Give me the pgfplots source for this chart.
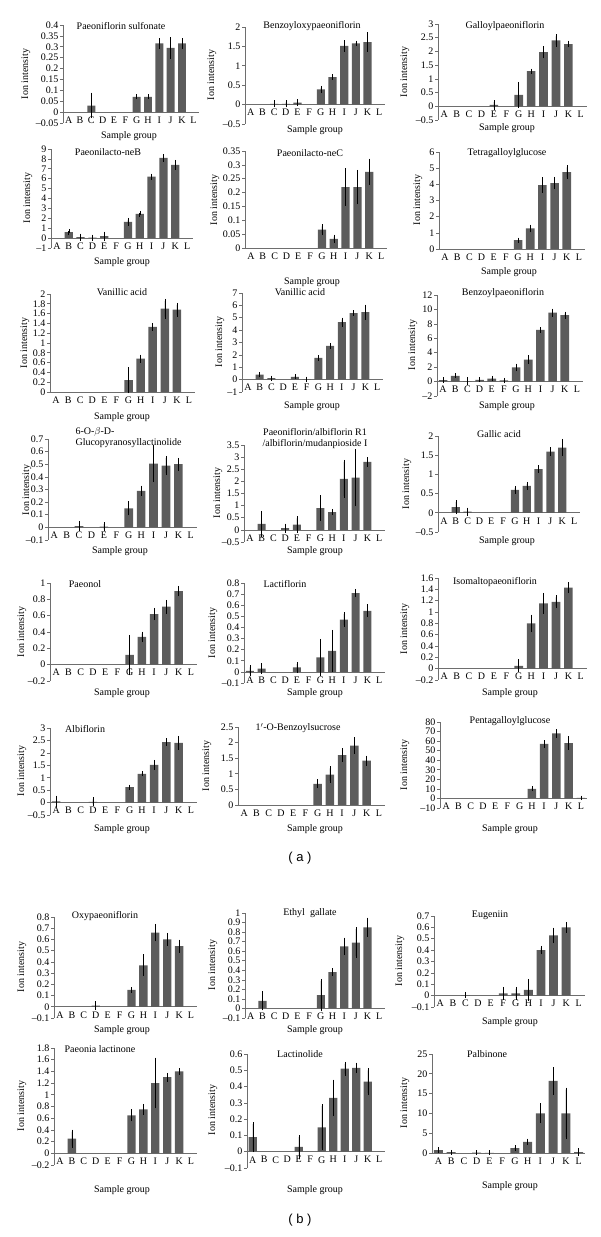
\documentclass[border=0pt]{standalone}
\usepackage{fontspec}
\setmainfont{Liberation Serif}
\newfontfamily\arialf{Liberation Sans}
\usepackage{pgfplots}
\pgfplotsset{compat=1.18}
\definecolor{barcol}{RGB}{92,92,92}
\definecolor{axcol}{RGB}{110,110,110}
\newdimen\PW \newdimen\PH \newdimen\PXd \newdimen\PYd
\newcommand\setp[4]{\PXd=#1pt\relax\PYd=\dimexpr1237pt-#4pt\relax\PW=\dimexpr#2pt-#1pt\relax\PH=\dimexpr#4pt-#3pt\relax}
\pgfplotsset{mini/.style={
 scale only axis, anchor=south west, at={(\PXd,\PYd)},
 width=\PW, height=\PH,
 xmin=0.5, xmax=12.5,
 axis x line*=middle, axis y line*=left,
 hide obscured x ticks=false, hide obscured y ticks=false,
 xtick={1,...,12}, xticklabels={A,B,C,D,E,F,G,H,I,J,K,L},
 x tick style={draw=none},
 tick align=outside, major tick length=3pt,
 axis line style={axcol, line width=0.6pt},
 y tick style={axcol, line width=0.6pt},
 ticklabel style={font=\fontsize{10}{10}\selectfont, inner sep=1.5pt},
 yticklabel style={/pgf/number format/fixed, /pgf/number format/precision=3},
 yticklabel={\pgfmathparse{\tick<-0.0000001}\ifdim\pgfmathresult pt>0.5pt \textendash\fi\pgfmathparse{abs(\tick)}\pgfmathprintnumber{\pgfmathresult}},
 /pgf/number format/assume math mode=true,
 scaled y ticks=false,
 clip=false,
 ybar, bar width=0.7,
}}
\pgfplotsset{bars/.style={fill=barcol, draw=none,
 error bars/.cd, y dir=both, y explicit,
 error bar style={black, line width=0.5pt},
 error mark options={black, line width=0.5pt, mark size=2pt}}}
\newcommand\lab[3]{\node[font=\fontsize{10}{10}\selectfont] at (#1pt,1237pt-#2pt) {#3};}
\newcommand\ylab[2]{\node[font=\fontsize{10}{10}\selectfont, rotate=90] at (#1pt,1237pt-#2pt) {Ion intensity};}
\begin{document}
\begin{tikzpicture}
\path[use as bounding box] (0pt,0pt) rectangle (600pt,1237pt);
% ---------- row 1
\setp{63}{199}{25}{123}
\begin{axis}[mini, ymin=-0.05, ymax=0.4, ytick={-0.05,0,0.05,0.1,0.15,0.2,0.25,0.3,0.35,0.4}]
\addplot[bars] table[x=x,y=y,y error=e,row sep=\\]{x y e\\ 3 0.03 0.05\\ 7 0.07 0.002\\ 8 0.07 0.002\\ 9 0.315 0.015\\ 10 0.295 0.04\\ 11 0.315 0.015\\};
\end{axis}
\lab{121}{26}{Paeoniflorin sulfonate}\lab{129}{136}{Sample group}\ylab{26}{74}
\setp{245}{385}{27}{124}
\begin{axis}[mini, ymin=-0.5, ymax=2, ytick={-0.5,0,0.5,1,1.5,2}]
\addplot[bars] table[x=x,y=y,y error=e,row sep=\\]{x y e\\ 3 0.02 0.04\\ 4 0.02 0.04\\ 5 0.05 0.04\\ 7 0.39 0.04\\ 8 0.71 0.02\\ 9 1.51 0.1\\ 10 1.58 0.02\\ 11 1.61 0.2\\};
\end{axis}
\lab{312}{26}{Benzoyloxypaeoniflorin}\lab{315}{130}{Sample group}\ylab{212}{75}
\setp{438}{587}{24}{120}
\begin{axis}[mini, ymin=-0.5, ymax=3, ytick={-0.5,0,0.5,1,1.5,2,2.5,3}]
\addplot[bars] table[x=x,y=y,y error=e,row sep=\\]{x y e\\ 5 0.05 0.1\\ 7 0.42 0.4\\ 8 1.28 0.02\\ 9 1.97 0.15\\ 10 2.4 0.15\\ 11 2.27 0.05\\};
\end{axis}
\lab{505}{26}{Galloylpaeoniflorin}\lab{507}{128}{Sample group}\ylab{405}{72}
% ---------- row 2
\setp{51}{193}{149}{248}
\begin{axis}[mini, ymin=-1, ymax=9, ytick={-1,0,1,2,3,4,5,6,7,8,9}]
\addplot[bars] table[x=x,y=y,y error=e,row sep=\\]{x y e\\ 2 0.6 0.1\\ 3 0.1 0.15\\ 4 0.05 0.1\\ 5 0.2 0.25\\ 7 1.65 0.2\\ 8 2.45 0.1\\ 9 6.2 0.1\\ 10 8.1 0.2\\ 11 7.4 0.3\\};
\end{axis}
\lab{108}{152}{Paeonilacto-neB}\lab{122}{262}{Sample group}\ylab{28}{198}
\setp{245}{387}{151}{248}
\begin{axis}[mini, ymin=0, ymax=0.35, ytick={0,0.05,0.1,0.15,0.2,0.25,0.3,0.35}]
\addplot[bars] table[x=x,y=y,y error=e,row sep=\\]{x y e\\ 7 0.066 0.012\\ 8 0.033 0.008\\ 9 0.22 0.06\\ 10 0.22 0.055\\ 11 0.275 0.04\\};
\end{axis}
\lab{310}{153}{Paeonilacto-neC}\lab{312}{282}{Sample group}\ylab{215}{200}
\setp{439}{585}{152}{249}
\begin{axis}[mini, ymin=0, ymax=6, ytick={0,1,2,3,4,5,6}]
\addplot[bars] table[x=x,y=y,y error=e,row sep=\\]{x y e\\ 7 0.55 0.03\\ 8 1.27 0.12\\ 9 3.95 0.35\\ 10 4.08 0.25\\ 11 4.75 0.3\\};
\end{axis}
\lab{507}{153}{Tetragalloylglucose}\lab{509}{272}{Sample group}\ylab{418}{200}
% ---------- row 3
\setp{50}{195}{294}{392}
\begin{axis}[mini, ymin=0, ymax=2, ytick={0,0.2,0.4,0.6,0.8,1,1.2,1.4,1.6,1.8,2}]
\addplot[bars] table[x=x,y=y,y error=e,row sep=\\]{x y e\\ 7 0.24 0.22\\ 8 0.68 0.04\\ 9 1.33 0.04\\ 10 1.7 0.16\\ 11 1.68 0.1\\};
\end{axis}
\lab{122}{292}{Vanillic acid}\lab{122}{417}{Sample group}\ylab{25}{343}
\setp{242}{383}{293}{392}
\begin{axis}[mini, ymin=-1, ymax=7, ytick={-1,0,1,2,3,4,5,6,7}]
\addplot[bars] table[x=x,y=y,y error=e,row sep=\\]{x y e\\ 2 0.4 0.05\\ 3 0.12 0.04\\ 5 0.22 0.04\\ 6 0.03 0.05\\ 7 1.75 0.06\\ 8 2.72 0.08\\ 9 4.65 0.2\\ 10 5.38 0.05\\ 11 5.45 0.45\\};
\end{axis}
\lab{300}{292}{Vanillic acid}\lab{312}{406}{Sample group}\ylab{220}{342}
\setp{437}{583}{295}{396}
\begin{axis}[mini, ymin=-2, ymax=12, ytick={-2,0,2,4,6,8,10,12}]
\addplot[bars] table[x=x,y=y,y error=e,row sep=\\]{x y e\\ 1 0.2 0.1\\ 2 0.8 0.05\\ 3 0.05 0.3\\ 4 0.25 0.05\\ 5 0.4 0.1\\ 6 0.15 0.1\\ 7 1.95 0.25\\ 8 3.05 0.3\\ 9 7.15 0.1\\ 10 9.55 0.3\\ 11 9.2 0.2\\};
\end{axis}
\lab{503}{293}{Benzoylpaeoniflorin}\lab{507}{406}{Sample group}\ylab{413}{345}
% ---------- row 4
\setp{48}{197}{439}{540}
\begin{axis}[mini, ymin=-0.1, ymax=0.7, ytick={-0.1,0,0.1,0.2,0.3,0.4,0.5,0.6,0.7}]
\addplot[bars] table[x=x,y=y,y error=e,row sep=\\]{x y e\\ 3 0.01 0.025\\ 5 0.005 0.02\\ 7 0.15 0.04\\ 8 0.29 0.025\\ 9 0.505 0.13\\ 10 0.49 0.06\\ 11 0.5 0.035\\};
\end{axis}
\node[font=\fontsize{10}{11}\selectfont, align=left, anchor=west] at (72pt,1237pt-438pt) {6-O-$\beta$-D-\\Glucopyranosyllactinolide};
\lab{120}{551}{Sample group}\ylab{27}{490}
\setp{244}{385}{445}{542}
\begin{axis}[mini, ymin=-0.5, ymax=3.5, ytick={-0.5,0,0.5,1,1.5,2,2.5,3,3.5}]
\addplot[bars] table[x=x,y=y,y error=e,row sep=\\]{x y e\\ 2 0.25 0.45\\ 4 0.07 0.1\\ 5 0.22 0.25\\ 7 0.9 0.45\\ 8 0.73 0.05\\ 9 2.1 0.7\\ 10 2.15 1.1\\ 11 2.8 0.12\\};
\end{axis}
\node[font=\fontsize{10}{11}\selectfont, align=center] at (315pt,1237pt-439pt) {Paeoniflorin/albiflorin R1\\/albiflorin/mudanpioside I};
\lab{315}{551}{Sample group}\ylab{218}{493}
\setp{438}{580}{436}{532}
\begin{axis}[mini, ymin=-0.5, ymax=2, ytick={-0.5,0,0.5,1,1.5,2}]
\addplot[bars] table[x=x,y=y,y error=e,row sep=\\]{x y e\\ 2 0.15 0.13\\ 3 0.03 0.05\\ 7 0.6 0.05\\ 8 0.7 0.05\\ 9 1.14 0.05\\ 10 1.59 0.06\\ 11 1.7 0.17\\};
\end{axis}
\lab{499}{434}{Gallic acid}\lab{507}{541}{Sample group}\ylab{407}{484}
% ---------- row 5
\setp{50}{197}{583}{681}
\begin{axis}[mini, ymin=-0.2, ymax=1, ytick={-0.2,0,0.2,0.4,0.6,0.8,1}]
\addplot[bars] table[x=x,y=y,y error=e,row sep=\\]{x y e\\ 7 0.12 0.22\\ 8 0.34 0.04\\ 9 0.62 0.05\\ 10 0.71 0.06\\ 11 0.9 0.04\\};
\end{axis}
\lab{85}{584}{Paeonol}\lab{122}{693}{Sample group}\ylab{22}{632}
\setp{244}{385}{583}{683}
\begin{axis}[mini, ymin=-0.1, ymax=0.8, ytick={-0.1,0,0.1,0.2,0.3,0.4,0.5,0.6,0.7,0.8}]
\addplot[bars] table[x=x,y=y,y error=e,row sep=\\]{x y e\\ 1 0.01 0.03\\ 2 0.03 0.03\\ 5 0.04 0.03\\ 7 0.13 0.15\\ 8 0.19 0.17\\ 9 0.47 0.05\\ 10 0.71 0.02\\ 11 0.55 0.04\\};
\end{axis}
\lab{285}{584}{Lactiflorin}\lab{315}{693}{Sample group}\ylab{213}{633}
\setp{438}{587}{578}{680}
\begin{axis}[mini, ymin=-0.2, ymax=1.6, ytick={-0.2,0,0.2,0.4,0.6,0.8,1,1.2,1.4,1.6}]
\addplot[bars] table[x=x,y=y,y error=e,row sep=\\]{x y e\\ 7 0.05 0.08\\ 8 0.8 0.12\\ 9 1.15 0.15\\ 10 1.18 0.08\\ 11 1.43 0.06\\};
\end{axis}
\lab{495}{582}{Isomaltopaeoniflorin}\lab{510}{693}{Sample group}\ylab{405}{629}
% ---------- row 6
\setp{50}{197}{728}{815}
\begin{axis}[mini, ymin=-0.5, ymax=3, ytick={-0.5,0,0.5,1,1.5,2,2.5,3}]
\addplot[bars] table[x=x,y=y,y error=e,row sep=\\]{x y e\\ 1 0.05 0.15\\ 4 0.03 0.1\\ 7 0.62 0.02\\ 8 1.15 0.02\\ 9 1.52 0.12\\ 10 2.43 0.07\\ 11 2.4 0.2\\};
\end{axis}
\lab{85}{729}{Albiflorin}\lab{122}{829}{Sample group}\ylab{22}{771}
\setp{238}{385}{727}{805}
\begin{axis}[mini, ymin=0, ymax=2.5, ytick={0,0.5,1,1.5,2,2.5}]
\addplot[bars] table[x=x,y=y,y error=e,row sep=\\]{x y e\\ 7 0.68 0.08\\ 8 0.97 0.2\\ 9 1.6 0.15\\ 10 1.9 0.2\\ 11 1.42 0.1\\};
\end{axis}
\lab{298}{728}{1$'$-O-Benzoylsucrose}\lab{315}{829}{Sample group}\ylab{207}{766}
\setp{440}{587}{722}{808}
\begin{axis}[mini, ymin=-10, ymax=80, ytick={-10,0,10,20,30,40,50,60,70,80}]
\addplot[bars] table[x=x,y=y,y error=e,row sep=\\]{x y e\\ 8 10 0.5\\ 9 57 2\\ 10 68 2.5\\ 11 58 5\\ 12 0.5 0.3\\};
\end{axis}
\lab{510}{721}{Pentagalloylglucose}\lab{510}{829}{Sample group}\ylab{405}{765}
% ---------- (a)
\node[font=\arialf\fontsize{13}{13}\selectfont] at (300pt,1237pt-858pt) {( a )};
% ---------- row 7
\setp{54}{197}{917}{1018}
\begin{axis}[mini, ymin=-0.1, ymax=0.8, ytick={-0.1,0,0.1,0.2,0.3,0.4,0.5,0.6,0.7,0.8}]
\addplot[bars] table[x=x,y=y,y error=e,row sep=\\]{x y e\\ 4 0.01 0.02\\ 7 0.15 0.005\\ 8 0.37 0.08\\ 9 0.66 0.06\\ 10 0.6 0.04\\ 11 0.54 0.04\\};
\end{axis}
\lab{105}{916}{Oxypaeoniflorin}\lab{122}{1030}{Sample group}\ylab{22}{967}
\setp{245}{385}{913}{1018}
\begin{axis}[mini, ymin=-0.1, ymax=1, ytick={-0.1,0,0.1,0.2,0.3,0.4,0.5,0.6,0.7,0.8,0.9,1}]
\addplot[bars] table[x=x,y=y,y error=e,row sep=\\]{x y e\\ 2 0.08 0.08\\ 7 0.14 0.15\\ 8 0.38 0.02\\ 9 0.65 0.07\\ 10 0.69 0.14\\ 11 0.85 0.08\\};
\end{axis}
\lab{310}{913}{Ethyl\ \ gallate}\lab{315}{1030}{Sample group}\ylab{213}{965}
\setp{434}{585}{916}{1007}
\begin{axis}[mini, ymin=-0.1, ymax=0.7, ytick={-0.1,0,0.1,0.2,0.3,0.4,0.5,0.6,0.7}]
\addplot[bars] table[x=x,y=y,y error=e,row sep=\\]{x y e\\ 3 0.005 0.01\\ 6 0.02 0.04\\ 7 0.02 0.04\\ 8 0.05 0.08\\ 9 0.4 0.02\\ 10 0.53 0.05\\ 11 0.6 0.03\\};
\end{axis}
\lab{490}{915}{Eugeniin}\lab{510}{1022}{Sample group}\ylab{400}{961}
% ---------- row 8
\setp{54}{197}{1048}{1165}
\begin{axis}[mini, ymin=-0.2, ymax=1.8, ytick={-0.2,0,0.2,0.4,0.6,0.8,1,1.2,1.4,1.6,1.8}]
\addplot[bars] table[x=x,y=y,y error=e,row sep=\\]{x y e\\ 2 0.25 0.12\\ 7 0.65 0.07\\ 8 0.75 0.06\\ 9 1.2 0.4\\ 10 1.3 0.04\\ 11 1.4 0.02\\};
\end{axis}
\lab{100}{1049}{Paeonia lactinone}\lab{122}{1190}{Sample group}\ylab{22}{1106}
\setp{247}{385}{1054}{1168}
\begin{axis}[mini, ymin=-0.1, ymax=0.6, ytick={-0.1,0,0.1,0.2,0.3,0.4,0.5,0.6}]
\addplot[bars] table[x=x,y=y,y error=e,row sep=\\]{x y e\\ 1 0.09 0.08\\ 5 0.03 0.06\\ 7 0.15 0.13\\ 8 0.33 0.1\\ 9 0.51 0.03\\ 10 0.515 0.02\\ 11 0.43 0.07\\};
\end{axis}
\lab{300}{1054}{Lactinolide}\lab{315}{1190}{Sample group}\ylab{213}{1110}
\setp{432}{585}{1054}{1153}
\begin{axis}[mini, ymin=0, ymax=25, ytick={0,5,10,15,20,25}]
\addplot[bars] table[x=x,y=y,y error=e,row sep=\\]{x y e\\ 1 0.7 0.2\\ 2 0.2 0.1\\ 4 0.1 0.1\\ 5 0.05 0.1\\ 7 1.2 0.3\\ 8 2.8 0.3\\ 9 10 2\\ 10 18.2 3\\ 11 10 6\\ 12 0.2 0.5\\};
\end{axis}
\lab{487}{1054}{Palbinone}\lab{510}{1186}{Sample group}\ylab{405}{1103}
% ---------- (b)
\node[font=\arialf\fontsize{13}{13}\selectfont] at (300pt,1237pt-1220pt) {( b )};
\end{tikzpicture}
\end{document}
